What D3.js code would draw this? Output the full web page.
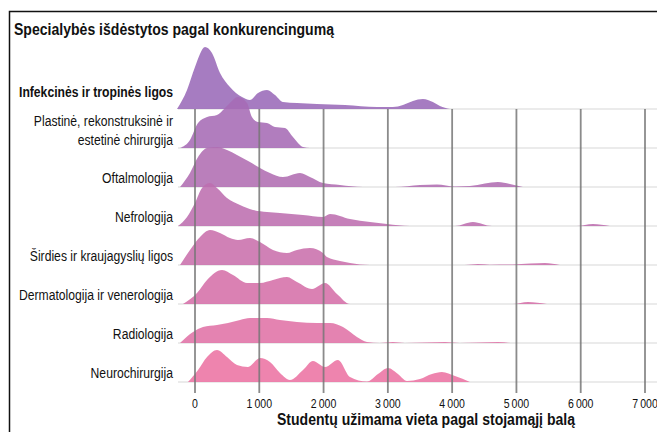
<!DOCTYPE html>
<html>
<head>
<meta charset="utf-8">
<title>Specialybės</title>
<style>
  body { margin: 0; padding: 0; background: #fff; }
  text { font-family: "Liberation Sans", Arial, sans-serif; }
</style>
</head>
<body>
<div id="chart"></div>
<script src="https://cdn.jsdelivr.net/npm/d3@7"></script>
<script>

  width = 657
  height = 432

  // studentų vieta (x) ir tankis (aukštis) kiekvienai specialybei
  var specialties = [
    ['Infekcinės ir tropinės ligos'],
    ['Plastinė, rekonstruksinė ir', 'estetinė chirurgija'],
    ['Oftalmologija'],
    ['Nefrologija'],
    ['Širdies ir kraujagyslių ligos'],
    ['Dermatologija ir venerologija'],
    ['Radiologija'],
    ['Neurochirurgija']
  ]

  var infekcines = [[-280,0],[-124,19],[0,42],[156,62],[264,56],[389,36],[544,22],[731,12],[855,9],[980,16],
    [1120,19],[1244,14],[1369,7],[1586,6],[1897,5],[2333,4],[2830,2],[3079,2],[3235,4],[3390,8],[3546,10],
    [3700,7],[3810,3],[3966,0]]
  var plastine = [[-233,0],[-78,8],[47,25],[187,31],[342,33],[513,43],[669,51],[809,45],[886,31],[980,26],
    [1120,25],[1244,21],[1400,20],[1524,11],[1680,1],[1788,0]]
  var oftalmologija = [[-233,0],[-78,14],[47,30],[187,39],[342,40],[498,37],[653,32],[855,25],[1011,19],
    [1166,14],[1369,10],[1633,14],[1788,10],[1991,4],[2255,2],[2613,0],[3110,0],[3499,2],[3764,2.5],
    [4044,0.5],[4277,1],[4510,3.5],[4712,5],[4899,3],[5101,0]]
  var nefrologija = [[-264,0],[-124,9],[0,23],[109,38],[233,43],[342,38],[498,28],[700,21],[902,16],[1120,14],
    [1322,13],[1680,11],[1991,9],[2100,12],[2411,7],[2722,4],[2986,2],[3344,0],[4044,0],[4323,4],[4619,0],
    [5941,0],[6190,2],[6454,0]]
  var sirdies = [[-233,0],[-78,15],[78,28],[233,35],[389,32],[544,27],[669,25],[855,27],[1011,23],[1213,15],
    [1431,12],[1586,15],[1788,17],[1991,12],[2053,8],[2255,4],[2411,2],[2722,0],[4199,0],[4401,1],[4588,0.3],
    [4946,0.5],[5210,1.5],[5443,2],[5677,0]]
  var dermatologija = [[-187,0],[31,11],[187,24],[420,34],[591,29],[809,21],[1011,21],[1213,24],[1431,27],
    [1586,22],[1820,15],[2022,21],[2208,10],[2411,0],[4946,0],[5179,2],[5474,0]]
  var radiologija = [[-233,0],[-31,11],[124,16],[342,18],[513,20],[700,23],[855,25],[1120,25],[1322,23],
    [1586,21],[1897,20],[2100,20],[2302,16],[2519,6],[2675,1],[2877,0],[3079,1],[3266,0],[3888,1],[4121,0],
    [4712,1],[4899,0]]
  var neurochirurgija = [[-109,0],[47,12],[187,25],[342,32],[498,25],[653,17],[824,15],[1011,24],[1166,20],
    [1322,9],[1477,2],[1680,12],[1835,21],[2022,15],[2224,22],[2411,5],[2675,0.5],[2846,8],[3002,14],
    [3157,8],[3297,1],[3499,3],[3686,8],[3841,10],[4044,6],[4277,0]]

  var densities = [infekcines, plastine, oftalmologija, nefrologija, sirdies, dermatologija, radiologija, neurochirurgija]
  var xTicks = [0, 1000, 2000, 3000, 4000, 5000, 6000, 7000]

  var titleText = 'Specialybės išdėstytos pagal konkurencingumą'
  var axisText = 'Studentų užimama vieta pagal stojamąjį balą'

  // siauresnis šriftas: suspaudžiam tekstą iki norimo pločio
  function squeeze(sel, factor) {
    sel.each(function() {
      var w = this.getComputedTextLength()
      d3.select(this).attr('textLength', w * factor).attr('lengthAdjust', 'spacingAndGlyphs')
    })
  }
  function fitTo(sel, target) {
    sel.attr('textLength', target).attr('lengthAdjust', 'spacingAndGlyphs')
  }

  var svg = d3.select('#chart').append('svg').attr('width', width).attr('height', height)

  // rėmelis
  svg.append('rect')
    .attr('x', 9.5).attr('y', 11.5)
    .attr('width', 700).attr('height', 500)
    .style('fill', 'none').style('stroke', '#111').style('stroke-width', 1.5)

  svg.append('text')
    .text(titleText)
    .attr('x', 14).attr('y', 34.5)
    .attr('font-size', 17).attr('font-weight', 700)
    .style('fill', '#111')
    .call(fitTo, 320)

  var x = d3.scaleLinear().domain([0, 7000]).range([195, 645])
  var rows = d3.scalePoint().domain(d3.range(specialties.length)).range([109, 382])
  var h = d3.scaleLinear().domain([0, 62]).range([0, 62])
  var colour = d3.scaleLinear().domain([0, specialties.length - 1]).range(['#9a6ab8', '#ec73a3']).interpolate(d3.interpolateRgb)

  // silpnos bazinės linijos
  svg.selectAll('.base').data(specialties).enter()
    .append('line')
    .attr('class', 'base')
    .attr('x1', 178).attr('x2', width)
    .attr('y1', (d, i) => rows(i)).attr('y2', (d, i) => rows(i))
    .style('stroke', '#ebebeb').style('stroke-width', 2)

  var area = d3.area()
    .curve(d3.curveMonotoneX)
    .x(d => x(d[0]))

  densities.forEach((dens, i) => {
    area.y0(rows(i)).y1(d => rows(i) - h(d[1]))
    svg.append('path')
      .attr('d', area(dens))
      .style('fill', colour(i))
      .style('fill-opacity', 0.88)
  })

  // vertikalios tinklelio linijos
  svg.selectAll('.grid').data(xTicks).enter()
    .append('line')
    .attr('class', 'grid')
    .attr('x1', d => x(d)).attr('x2', d => x(d))
    .attr('y1', rows(0)).attr('y2', 393)
    .style('stroke', '#777').style('stroke-width', 1.8).style('opacity', 0.85)

  // etiketės
  specialties.forEach((lines, i) => {
    lines.forEach((t, j) => {
      var y = rows(i) - 4
      if (i == 0) y = rows(i) - 12
      if (lines.length > 1) y = rows(i) - 3 - (lines.length - 1 - j) * 19
      svg.append('text')
        .text(t)
        .attr('class', 'label')
        .attr('x', 173)
        .attr('y', y)
        .attr('text-anchor', 'end')
        .attr('font-size', 14)
        .attr('font-weight', i == 0 ? 700 : 400)
        .style('fill', '#111')
    })
  })
  var refLabel = svg.selectAll('.label').filter(function() { return d3.select(this).text() == 'Dermatologija ir venerologija' })
  var labelFactor = 154 / refLabel.node().getComputedTextLength()
  svg.selectAll('.label').call(squeeze, labelFactor)

  svg.selectAll('.tick-label').data(xTicks).enter()
    .append('text')
    .attr('class', 'tick-label')
    .text(d => d3.format(',')(d).replace(',', '\u2009'))
    .attr('x', d => x(d))
    .attr('y', 408)
    .attr('text-anchor', 'middle')
    .attr('font-size', 13.5)
    .style('fill', '#111')
    .call(squeeze, 0.78)

  svg.append('text')
    .text(axisText)
    .attr('x', 426).attr('y', 424.5)
    .attr('text-anchor', 'middle')
    .attr('font-size', 16.5).attr('font-weight', 700)
    .style('fill', '#111')
    .call(fitTo, 298)

</script>
</body>
</html>
